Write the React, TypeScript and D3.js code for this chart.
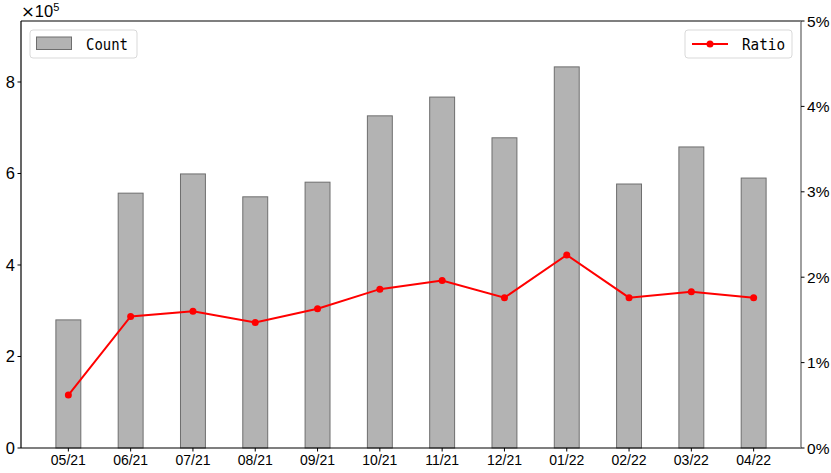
import React from "react";
import * as d3 from "d3";

const categories = ["05/21","06/21","07/21","08/21","09/21","10/21","11/21","12/21","01/22","02/22","03/22","04/22"];
const counts = [2.80e5, 5.57e5, 5.99e5, 5.49e5, 5.81e5, 7.26e5, 7.67e5, 6.78e5, 8.33e5, 5.77e5, 6.58e5, 5.90e5];
const ratios = [0.62, 1.54, 1.60, 1.47, 1.63, 1.86, 1.96, 1.76, 2.26, 1.76, 1.83, 1.76];
const leftTicks = [0, 2, 4, 6, 8];
const rightTicks = [0, 1, 2, 3, 4, 5];

const W = 831, H = 473;
const L = 21, R = 801, T = 21, B = 448;

export default function App() {
  const x = d3.scaleLinear().domain([-0.76, categories.length - 1 + 0.76]).range([L, R]);
  const step = x(1) - x(0);
  const bw = step * 0.4;
  const yL = d3.scaleLinear().domain([0, 9.333e5]).range([B, T]);
  const yR = d3.scaleLinear().domain([0, 5]).range([B, T]);
  const line = d3.line<number>().x((_, i) => x(i)).y(d => yR(d));
  const tickFont = "'Liberation Sans', Arial, sans-serif";
  const monoFont = "'DejaVu Sans Mono', monospace";
  return (
    <svg width={W} height={H} style={{ position: "absolute", left: 0, top: 0 }}>
      <rect x={0} y={0} width={W} height={H} fill="#fff" />
      {counts.map((c, i) => (
        <rect key={i} x={x(i) - bw / 2} y={yL(c)} width={bw} height={B - yL(c)}
          fill="#b3b3b3" stroke="#6e6e6e" strokeWidth={1} />
      ))}
      <path d={line(ratios) || ""} fill="none" stroke="#ff0000" strokeWidth={2} />
      {ratios.map((r, i) => (
        <circle key={i} cx={x(i)} cy={yR(r)} r={3.5} fill="#ff0000" />
      ))}
      {/* spines */}
      <line x1={L} y1={T} x2={R} y2={T} stroke="#000" strokeWidth={1.2} />
      <line x1={L} y1={B} x2={R} y2={B} stroke="#000" strokeWidth={1.2} />
      <line x1={L} y1={T} x2={L} y2={B} stroke="#000" strokeWidth={1.2} />
      <line x1={R} y1={T} x2={R} y2={B} stroke="#888" strokeWidth={1.6} />
      {/* left ticks */}
      {leftTicks.map(t => (
        <g key={t}>
          <line x1={L - 3.5} x2={L} y1={yL(t * 1e5)} y2={yL(t * 1e5)} stroke="#000" />
          <text x={L - 6} y={yL(t * 1e5)} dy="0.36em" textAnchor="end" fontSize={16.5} fontFamily={tickFont}>{t}</text>
        </g>
      ))}
      <text x={21} y={17} fontSize={16.5} fontFamily={tickFont}>
        <tspan fontFamily="'DejaVu Sans', sans-serif">×</tspan>10<tspan fontSize={11} dy={-6}>5</tspan>
      </text>
      {/* right ticks */}
      {rightTicks.map(t => (
        <g key={t}>
          <line x1={R} x2={R + 3.5} y1={yR(t)} y2={yR(t)} stroke="#000" />
          <text x={R + 6} y={yR(t)} dy="0.36em" textAnchor="start" fontSize={15.5} fontFamily={tickFont}>{t}%</text>
        </g>
      ))}
      {/* x ticks */}
      {categories.map((c, i) => (
        <g key={c}>
          <line x1={x(i)} x2={x(i)} y1={B} y2={B + 3.5} stroke="#000" />
          <text x={x(i)} y={B + 17} textAnchor="middle" fontSize={14} fontFamily={tickFont}>{c}</text>
        </g>
      ))}
      {/* legends */}
      <rect x={30} y={30} width={107} height={28} rx={3} fill="#fff" fillOpacity={0.8} stroke="#d9d9d9" />
      <rect x={36.5} y={37} width={35} height={12.5} fill="#b3b3b3" stroke="#6e6e6e" />
      <text x={86} y={49.5} fontSize={16.5} fontFamily={monoFont} textLength={42} lengthAdjust="spacingAndGlyphs">Count</text>
      <rect x={685} y={30} width={107} height={28} rx={3} fill="#fff" fillOpacity={0.8} stroke="#d9d9d9" />
      <line x1={692} x2={728} y1={44} y2={44} stroke="#ff0000" strokeWidth={2} />
      <circle cx={710} cy={44} r={3.5} fill="#ff0000" />
      <text x={742} y={49.5} fontSize={16.5} fontFamily={monoFont} textLength={43} lengthAdjust="spacingAndGlyphs">Ratio</text>
    </svg>
  );
}
